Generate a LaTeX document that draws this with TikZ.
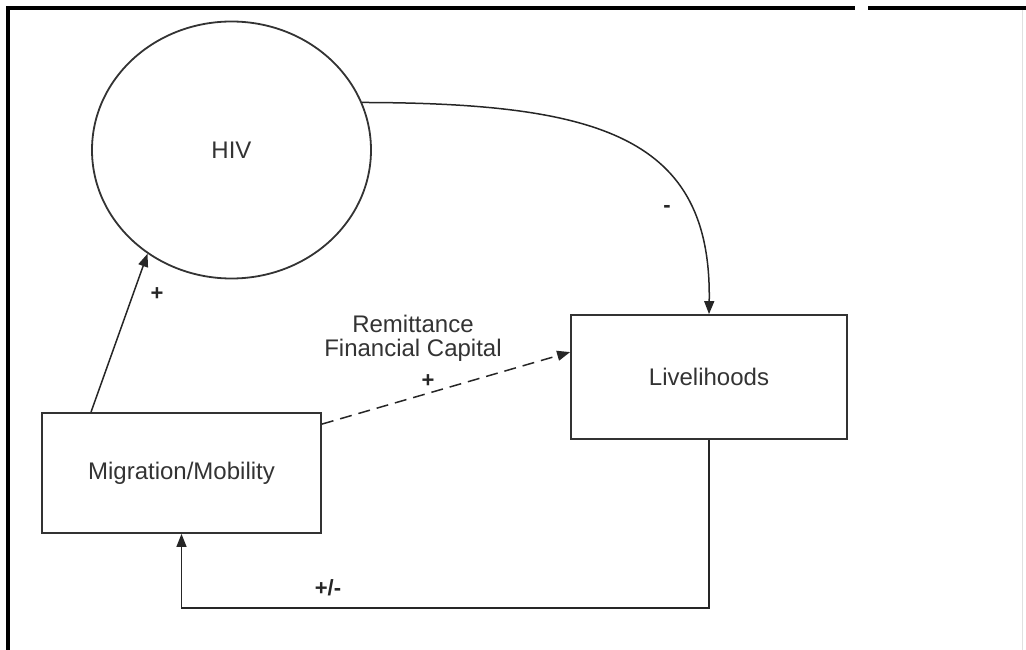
\documentclass[tikz,border=0pt]{standalone}
\usepackage{fontspec}
\setmainfont{Liberation Sans}
\usetikzlibrary{arrows.meta, positioning, shapes.geometric}

\tikzset{
  box/.style={draw=black!80, line width=1.8pt, inner sep=0pt, text=black!80, font=\fontsize{24}{28}\selectfont},
  link/.style={-{Triangle[length=13pt, width=10pt]}, draw=black!85, line width=1.5pt},
  sign/.style={text=black!85, font=\bfseries\fontsize{22}{26}\selectfont},
  lbl/.style={text=black!80, align=center, font=\fontsize{24}{24}\selectfont}
}

\begin{document}
\begin{tikzpicture}[x=1pt, y=-1pt]
      \useasboundingbox (0, 0) rectangle (1026, 650);
      \draw[line width=4pt] (8, 650) -- (8, 8) -- (855, 8);
      \draw[line width=4pt] (868, 8) -- (1026, 8);
      \draw[black!12, line width=1pt] (1022, 10) -- (1022, 650);

      \node[box, ellipse, minimum width=279pt, minimum height=257pt] (hiv) at (231.5, 150) {HIV};
      \node[box, minimum width=276pt, minimum height=124pt] (liv) at (709, 377) {Livelihoods};
      \node[box, minimum width=279pt, minimum height=120pt] (mig) at (181.5, 473) {Migration/Mobility};

      \draw[link] ([xshift=-90.5pt]mig.north) -- (hiv.231);
      \draw[link, dash pattern=on 12pt off 7pt] ([yshift=-12pt]mig.north east) -- ([yshift=-38pt]liv.north west);
      \draw[link] (hiv.20) .. controls (600, 103) and (712, 137) .. (liv.north);
      \draw[link] (liv.south) -- ++(0, 168) coordinate (corner) -| (mig.south);

      \node[sign] (plusup) at (157, 294) {+};
      \node[sign] (minus) at (667, 209) {-};
      \node[lbl] (remit) at (413, 338) {Remittance\\Financial Capital};
      \node[sign] (plusdash) at (428, 381) {+};
      \node[sign] (plusminus) at (328, 588) {+/-};
\end{tikzpicture}
\end{document}
